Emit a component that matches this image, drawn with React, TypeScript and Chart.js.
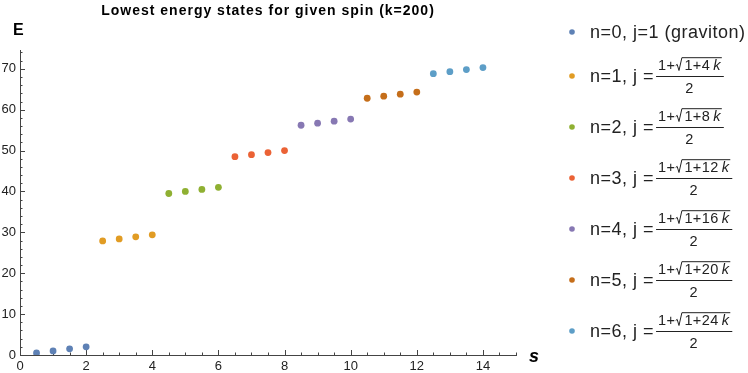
import { useEffect, useRef } from "react";
import { Chart, registerables } from "chart.js";

Chart.register(...registerables);

const titleText = "Lowest energy states for given spin (k=200)";
const xAxisTitle = "s";
const yAxisTitle = "E";

// spin values of the lowest states, grouped by level n
const spinsN0 = [0.5, 1, 1.5, 2];
const spinsN1 = [2.5, 3, 3.5, 4];
const spinsN2 = [4.5, 5, 5.5, 6];
const spinsN3 = [6.5, 7, 7.5, 8];
const spinsN4 = [8.5, 9, 9.5, 10];
const spinsN5 = [10.5, 11, 11.5, 12];
const spinsN6 = [12.5, 13, 13.5, 14];

// energies of those states
const energyN0 = [0.5, 1.0, 1.5, 2.0];
const energyN1 = [27.9, 28.4, 28.9, 29.4];
const energyN2 = [39.5, 40.0, 40.5, 41.0];
const energyN3 = [48.5, 49.0, 49.5, 50.0];
const energyN4 = [56.2, 56.7, 57.2, 57.7];
const energyN5 = [62.8, 63.3, 63.8, 64.3];
const energyN6 = [68.8, 69.3, 69.8, 70.3];

const levelNumbers = [0, 1, 2, 3, 4, 5, 6];
// coefficient of k under the square root in j = (1 + sqrt(1 + c k)) / 2
const kCoefficients = [0, 4, 8, 12, 16, 20, 24];
const seriesColors = ["#5E81B5", "#E19C24", "#8FB032", "#EB6235", "#8778B3", "#C56E1A", "#5D9EC7"];

const spinSeries = [spinsN0, spinsN1, spinsN2, spinsN3, spinsN4, spinsN5, spinsN6];
const energySeries = [energyN0, energyN1, energyN2, energyN3, energyN4, energyN5, energyN6];

// axis ranges and tick spacing
const xMin = 0;
const xMax = 15;
const xMajorStep = 2;
const xMinorStep = 0.5;
const yMin = 0;
const yMax = 74.6;
const yMajorStep = 10;
const yMinorStep = 2;

const FONT = '"Liberation Sans", Arial, sans-serif';
const AXIS_COLOR = "#444";
const TEXT_COLOR = "#222";

function drawFraction(ctx: CanvasRenderingContext2D, x: number, cy: number, coef: number) {
  const normal = `14.5px ${FONT}`;
  const italic = `italic 14.5px ${FONT}`;
  ctx.save();
  ctx.letterSpacing = "0.4px";
  ctx.font = normal;
  const w1 = ctx.measureText("1+").width;
  const radW = 7;
  const gap = 2;
  const radicand = `1+${coef}`;
  const w2 = ctx.measureText(radicand).width;
  const thin = 3;
  ctx.font = italic;
  const wk = ctx.measureText("k").width;
  const numW = w1 + radW + gap + w2 + thin + wk;
  const pad = 2;
  const numX = x + pad;
  const nb = cy - 6;

  ctx.fillStyle = TEXT_COLOR;
  ctx.strokeStyle = TEXT_COLOR;
  ctx.textBaseline = "alphabetic";
  ctx.textAlign = "left";
  ctx.font = normal;
  ctx.fillText("1+", numX, nb);
  const rx = numX + w1;
  const top = nb - 12.3;
  ctx.lineWidth = 1;
  ctx.beginPath();
  ctx.moveTo(rx + 0.3, nb - 4.5);
  ctx.lineTo(rx + 1.8, nb - 5.6);
  ctx.lineTo(rx + 3.6, nb + 0.5);
  ctx.lineTo(rx + radW - 0.5, top);
  ctx.lineTo(numX + numW + 1, top);
  ctx.stroke();
  ctx.fillText(radicand, rx + radW + gap, nb);
  ctx.font = italic;
  ctx.fillText("k", rx + radW + gap + w2 + thin, nb);

  // fraction bar
  ctx.beginPath();
  ctx.moveTo(x, cy + 0.5);
  ctx.lineTo(x + numW + 2 * pad + 1, cy + 0.5);
  ctx.stroke();

  ctx.font = normal;
  ctx.textAlign = "center";
  ctx.fillText("2", x + (numW + 2 * pad) / 2, cy + 17);
  ctx.restore();
}

const decorPlugin = {
  id: "decor",
  beforeDatasetsDraw(chart: any) {
    const { ctx, scales } = chart;
    const xs = scales.x;
    const ys = scales.y;
    const axisY = ys.getPixelForValue(yMin);
    const axisX = xs.getPixelForValue(xMin);
    ctx.save();
    ctx.strokeStyle = AXIS_COLOR;
    ctx.lineWidth = 1;
    ctx.beginPath();
    for (let v = xMin; v <= xMax + 1e-9; v += xMinorStep) {
      const px = Math.round(xs.getPixelForValue(v)) + 0.5;
      const major = Math.abs(v / xMajorStep - Math.round(v / xMajorStep)) < 1e-9;
      const len = major ? 5 : 2.5;
      ctx.moveTo(px, axisY);
      ctx.lineTo(px, axisY - len);
    }
    for (let v = yMin; v <= yMax + 1e-9; v += yMinorStep) {
      const py = Math.round(ys.getPixelForValue(v)) + 0.5;
      const major = Math.abs(v / yMajorStep - Math.round(v / yMajorStep)) < 1e-9;
      const len = major ? 5 : 2.5;
      ctx.moveTo(axisX, py);
      ctx.lineTo(axisX + len, py);
    }
    ctx.stroke();
    ctx.restore();
  },
  afterDraw(chart: any) {
    const { ctx, chartArea } = chart;
    ctx.save();
    ctx.fillStyle = "#000";
    ctx.textBaseline = "alphabetic";

    // title
    ctx.font = `bold 14px ${FONT}`;
    ctx.letterSpacing = "1px";
    ctx.textAlign = "center";
    ctx.fillText(titleText, (chartArea.left + chartArea.right) / 2, 15);

    // axis labels
    ctx.textAlign = "left";
    ctx.font = `bold 16px ${FONT}`;
    ctx.letterSpacing = "0px";
    ctx.fillText(yAxisTitle, 13, 34.5);
    ctx.font = `bold italic 18px ${FONT}`;
    ctx.fillText(xAxisTitle, chartArea.right + 13, 362);

    // legend
    const markerX = 572;
    const textX = 590;
    const rowY = [32, 76, 127, 178, 229, 280, 331];
    levelNumbers.forEach((n, i) => {
      const cy = rowY[i];
      ctx.fillStyle = seriesColors[i];
      ctx.beginPath();
      ctx.arc(markerX, cy, 2.8, 0, Math.PI * 2);
      ctx.fill();
      ctx.fillStyle = TEXT_COLOR;
      ctx.font = `18px ${FONT}`;
      ctx.letterSpacing = "0.5px";
      ctx.textAlign = "left";
      if (kCoefficients[i] === 0) {
        ctx.fillText(`n=${n}, j=1 (graviton)`, textX, cy + 6);
      } else {
        const label = `n=${n}, j =`;
        ctx.fillText(label, textX, cy + 6);
        const w = ctx.measureText(label).width;
        drawFraction(ctx, textX + w + 2, cy, kCoefficients[i]);
      }
    });
    ctx.restore();
  },
};

export default function App() {
  const canvasRef = useRef<HTMLCanvasElement | null>(null);

  useEffect(() => {
    const canvas = canvasRef.current;
    if (!canvas) return;
    const datasets = levelNumbers.map((n, i) => ({
      label: `n=${n}`,
      data: spinSeries[i].map((s, j) => ({ x: s, y: energySeries[i][j] })),
      backgroundColor: seriesColors[i],
      borderWidth: 0,
      pointRadius: 3.4,
      pointHoverRadius: 3.4,
    }));
    const chart = new Chart(canvas, {
      type: "scatter",
      data: { datasets },
      options: {
        responsive: false,
        animation: false,
        devicePixelRatio: 1,
        layout: { padding: { left: 0, top: 50, right: 232, bottom: 0 } },
        plugins: {
          legend: { display: false },
          title: { display: false },
          tooltip: { enabled: false },
        },
        scales: {
          x: {
            type: "linear",
            min: xMin,
            max: xMax,
            grid: { display: false, drawTicks: false },
            border: { display: true, color: AXIS_COLOR, width: 1 },
            ticks: {
              stepSize: xMajorStep,
              includeBounds: false,
              padding: 4,
              color: TEXT_COLOR,
              font: { family: FONT, size: 13 },
              maxRotation: 0,
            },
            afterFit: (scale: any) => {
              scale.height = 18;
            },
          },
          y: {
            type: "linear",
            min: yMin,
            max: yMax,
            grid: { display: false, drawTicks: false },
            border: { display: true, color: AXIS_COLOR, width: 1 },
            ticks: {
              stepSize: yMajorStep,
              includeBounds: false,
              padding: 4,
              color: TEXT_COLOR,
              font: { family: FONT, size: 13 },
            },
            afterFit: (scale: any) => {
              scale.width = 20;
            },
          },
        },
      },
      plugins: [decorPlugin],
    });
    return () => chart.destroy();
  }, []);

  return (
    <div style={{ position: "fixed", left: 0, top: 0, width: 748, height: 373, background: "#fff" }}>
      <canvas ref={canvasRef} width={748} height={373} />
    </div>
  );
}
